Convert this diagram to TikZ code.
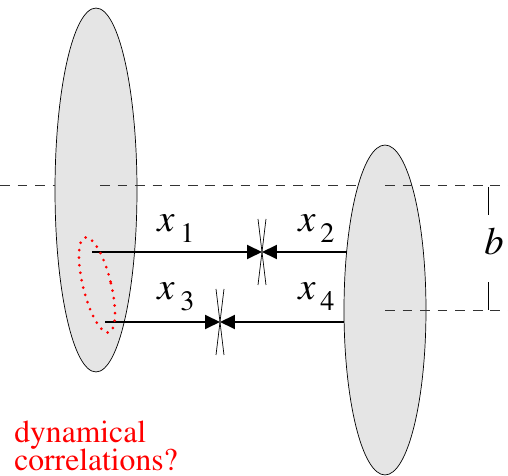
\documentclass[tikz,border=0pt]{standalone}
\usepackage[T1]{fontenc}
\usepackage{mathptmx}
\usetikzlibrary{shapes.geometric, arrows.meta}
\definecolor{blobcol}{RGB}{229, 229, 229}
\tikzset{
  blob/.style={ellipse, draw, thin, fill=blobcol, inner sep=0pt, minimum width=1.64cm},
  guide/.style={draw=black!80, thin, dash pattern=on 5.5pt off 4.5pt},
  dist/.style={-{Triangle[length=3mm, width=2.8mm]}, line width=1.1pt},
  tickmark/.style={thin},
  lbl/.style={inner sep=0pt, anchor=base west, font=\fontsize{22}{26}\selectfont},
  sub/.style={inner sep=0pt, anchor=base west, font=\fontsize{16}{19}\selectfont},
}

\begin{document}
\begin{tikzpicture}[x=0.02cm, y=-0.02cm]
  \useasboundingbox (0,0) rectangle (508,476);

  \node[blob, minimum height=7.28cm] (left) at (96,190) {};
  \node[blob, minimum height=6.6cm] (right) at (385,310) {};

  % reference planes
  \draw[guide] (0,185) -- (55,185);
  \draw[guide] (100,185) -- (357,185);
  \draw[guide] (385,185) -- (508,185);
  \draw[guide] (385,310) -- (508,310);

  \coordinate (a1) at (92,252);
  \coordinate (a2) at (347,252);
  \coordinate (m12) at (262,252);
  \coordinate (a3) at (105,322);
  \coordinate (a4) at (344,322);
  \coordinate (m34) at (220,322);

  \draw[dist] (a1) -- (m12);
  \draw[dist] (a2) -- (m12);
  \draw[dist] (a3) -- (m34);
  \draw[dist] (a4) -- (m34);

  \foreach \m in {m12, m34} {
    \draw[tickmark] ([shift={(-4,-33)}]\m) -- ([shift={(4,33)}]\m);
    \draw[tickmark] ([shift={(4,-33)}]\m) -- ([shift={(-4,33)}]\m);
  }

  \node[lbl] (x1) at (157,232) {\textit{x}};
  \node[sub] at (180,243) {1};
  \node[lbl] (x2) at (298,232) {\textit{x}};
  \node[sub] at (320,243) {2};
  \node[lbl] (x3) at (157,300) {\textit{x}};
  \node[sub] at (180,311) {3};
  \node[lbl] (x4) at (298,300) {\textit{x}};
  \node[sub] at (320,311) {4};

  % separation b
  \coordinate (btop) at (488,187);
  \coordinate (bbot) at (488,310);
  \draw[tickmark] (btop) -- ++(0,28);
  \draw[tickmark] (bbot) -- ++(0,-28);
  \node[lbl] (b) at (484,255) {\textit{b}};

  \node[ellipse, draw=red, line width=1.7pt, dash pattern=on 0pt off 4.3pt,
        line cap=round, minimum width=0.56cm, minimum height=1.96cm,
        inner sep=0pt, rotate=14] (corr) at (97,285) {};
  \node[text=red, inner sep=0pt, anchor=base west, align=left,
        font=\fontsize{18}{16.4}\selectfont] (note) at (14,471)
        {dynamical\\correlations?};
\end{tikzpicture}
\end{document}
